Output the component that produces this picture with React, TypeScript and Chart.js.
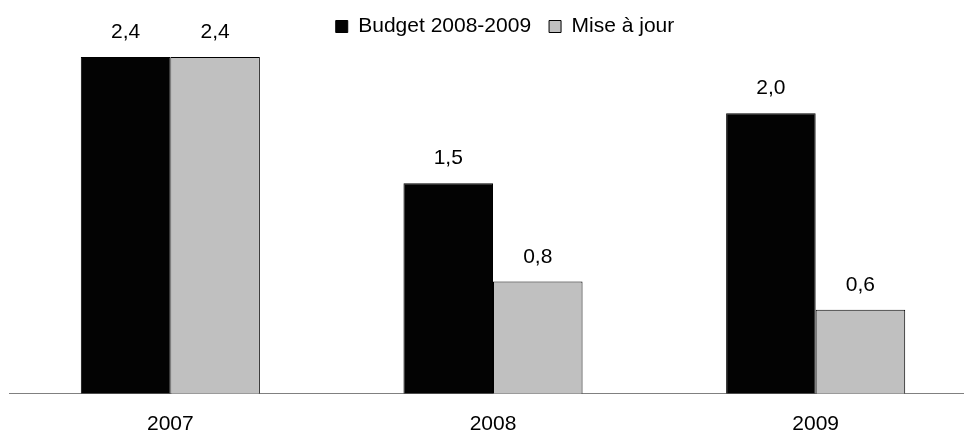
import React, { useEffect, useRef } from "react";
import { Chart, registerables } from "chart.js";

Chart.register(...registerables);

const categories = ["2007", "2008", "2009"];
const budgetValues = [2.4, 1.5, 2.0];
const updateValues = [2.4, 0.8, 0.6];
const seriesNames = ["Budget 2008-2009", "Mise à jour"];

const FONT = "'Liberation Sans', Arial, sans-serif";
const FS = 21;

const valueLabels = {
  id: "valueLabels",
  afterDatasetsDraw(chart: any) {
    const ctx = chart.ctx;
    ctx.save();
    ctx.font = `${FS}px ${FONT}`;
    ctx.fillStyle = "#000";
    ctx.textAlign = "center";
    ctx.textBaseline = "alphabetic";
    chart.data.datasets.forEach((ds: any, i: number) => {
      const meta = chart.getDatasetMeta(i);
      meta.data.forEach((el: any, j: number) => {
        const v = ds.data[j] as number;
        ctx.fillText(v.toFixed(1).replace(".", ","), el.x, el.y - 19);
      });
    });
    ctx.restore();
  },
};

export default function App() {
  const ref = useRef<HTMLCanvasElement>(null);
  useEffect(() => {
    if (!ref.current) return;
    const chart = new Chart(ref.current, {
      type: "bar",
      data: {
        labels: categories,
        datasets: [
          {
            label: seriesNames[0],
            data: budgetValues,
            backgroundColor: "#030303",
            borderColor: "#000",
            borderWidth: 1,
          },
          {
            label: seriesNames[1],
            data: updateValues,
            backgroundColor: "#C0C0C0",
            borderColor: "#000",
            borderWidth: 1,
          },
        ],
      },
      options: {
        animation: false,
        responsive: true,
        maintainAspectRatio: false,
        layout: { padding: { left: 9, right: 0, top: -2, bottom: 0 } },
        datasets: { bar: { categoryPercentage: 0.555, barPercentage: 1 } },
        plugins: {
          legend: {
            display: true,
            position: "top",
            labels: {
              font: { family: FONT, size: FS },
              color: "#000",
              boxWidth: 12,
              boxHeight: 12,
              padding: 18,
            },
          },
          tooltip: { enabled: false },
        },
        scales: {
          x: {
            grid: { display: false, drawTicks: false },
            border: { display: true, color: "#808080", width: 1 },
            ticks: { font: { family: FONT, size: FS }, color: "#000", padding: 18 },
          },
          y: {
            display: true,
            position: "right",
            min: 0,
            max: 2.472,
            grid: { display: false, drawTicks: false },
            border: { display: false },
            ticks: { display: false },
            afterFit: (scale: any) => {
              scale.width = 24;
            },
          },
        },
      },
      plugins: [valueLabels],
    });
    return () => chart.destroy();
  }, []);
  return (
    <div style={{ position: "fixed", left: 0, top: 0, width: 964, height: 433, overflow: "hidden", background: "#fff" }}>
      <div style={{ position: "relative", width: 1001, height: 455 }}>
        <canvas ref={ref} />
      </div>
    </div>
  );
}
